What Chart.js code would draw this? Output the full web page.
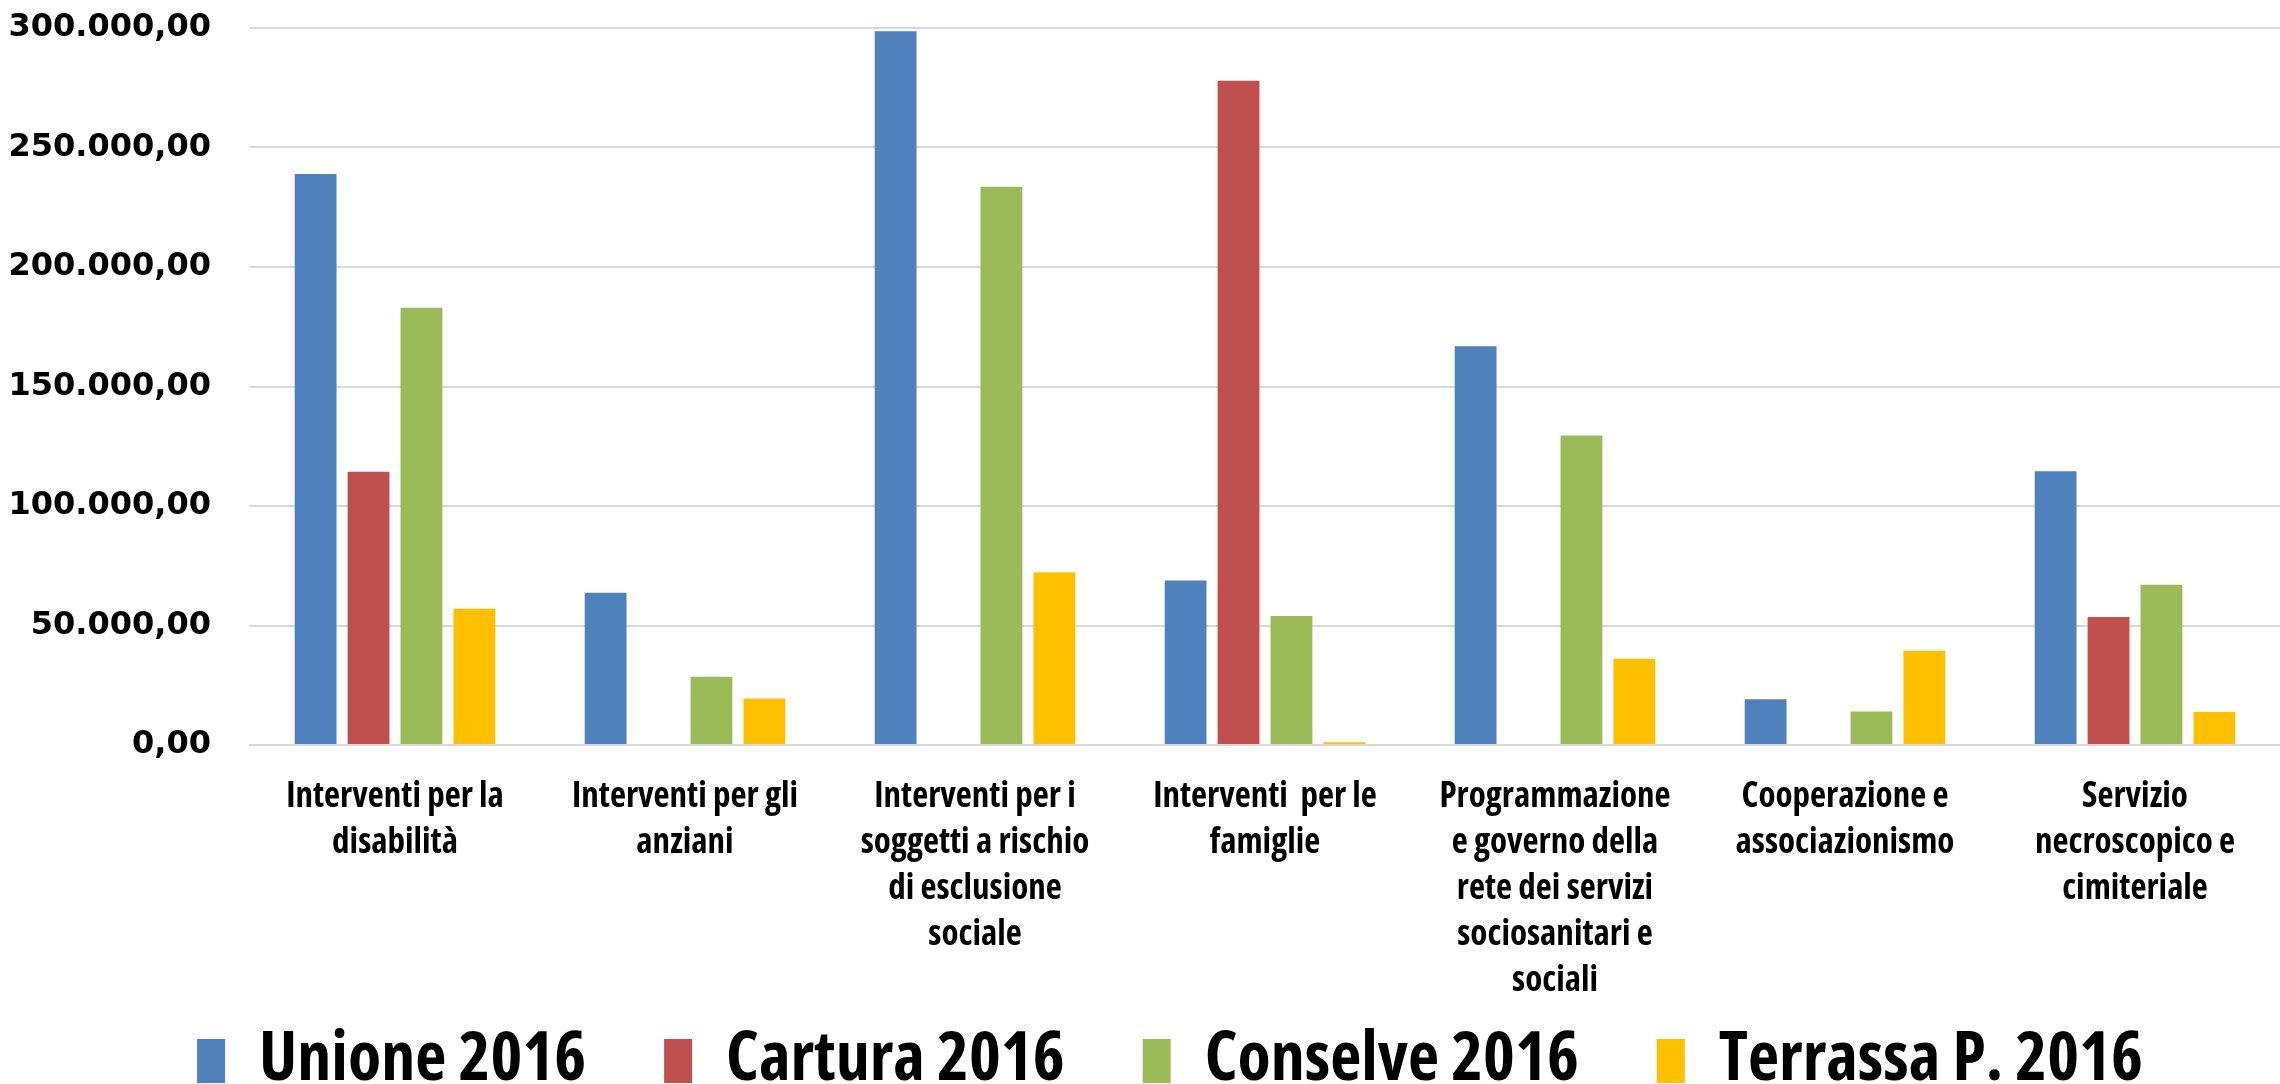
<!DOCTYPE html>
<html>
<head>
<meta charset="utf-8">
<script src="https://cdn.jsdelivr.net/npm/chart.js@4.4.1/dist/chart.umd.min.js"></script>
<style>
  html, body { margin: 0; padding: 0; background: #fff; }
  #wrap { width: 2280px; height: 1084px; position: relative; }
</style>
</head>
<body>
<div id="wrap"><canvas id="chart1"></canvas></div>
<script>
// categories (multi-line labels as in the original)
const categories = [
    ['Interventi per la', 'disabilità'],
    ['Interventi per gli', 'anziani'],
    ['Interventi per i', 'soggetti a rischio', 'di esclusione', 'sociale'],
    ['Interventi  per le', 'famiglie'],
    ['Programmazione', 'e governo della', 'rete dei servizi', 'sociosanitari e', 'sociali'],
    ['Cooperazione e', 'associazionismo'],
    ['Servizio', 'necroscopico e', 'cimiteriale']
];

// series values
const unione2016   = [238900, 63700, 298600, 68800, 166800, 19100, 114500];
const cartura2016  = [114300, 0, 0, 277900, 0, 0, 53600];
const conselve2016 = [182900, 28600, 233600, 54000, 129500, 14000, 67000];
const terrassa2016 = [57000, 19500, 72300, 1200, 36100, 39400, 13800];

// y axis ticks
const yTicks = [0, 50000, 100000, 150000, 200000, 250000, 300000];

// italian number format: 300.000,00
function fmt(v) {
    const parts = Math.abs(v).toFixed(2).split('.');
    const intPart = parts[0].replace(/\B(?=(\d{3})+(?!\d))/g, '.');
    return (v < 0 ? '-' : '') + intPart + ',' + parts[1];
}

// condensed bold, close to the Calibri look of the original
const labelFont = '"Open Sans", Roboto, sans-serif';

const ctx1 = document.getElementById('chart1').getContext('2d');
const chart1 = new Chart(ctx1, {
    type: 'bar',
    data: {
        labels: categories,
        datasets: [{
            label: 'Unione 2016',
            data: unione2016,
            backgroundColor: '#4F81BD',
        }, {
            label: 'Cartura 2016',
            data: cartura2016,
            backgroundColor: '#C0504D',
        }, {
            label: 'Conselve 2016',
            data: conselve2016,
            backgroundColor: '#9BBB59',
        }, {
            label: 'Terrassa P. 2016',
            data: terrassa2016,
            backgroundColor: '#FFC000',
        }]
    },
    options: {
        responsive: true,
        maintainAspectRatio: false,
        animation: false,
        layout: {
            padding: { top: 28, right: 0, left: 0, bottom: -77 }
        },
        datasets: {
            bar: {
                categoryPercentage: 0.73,
                barPercentage: 0.79,
            }
        },
        scales: {
            x: {
                grid: { display: false, drawTicks: false },
                border: { color: '#d9d9d9', width: 2 },
                ticks: {
                    color: '#000',
                    padding: 29,
                    maxRotation: 0,
                    autoSkip: false,
                    font: { family: labelFont, size: 35, weight: 'bold condensed', lineHeight: '46px' }
                },
                afterFit: function (scale) { scale.height = 260; }
            },
            y: {
                min: 0,
                max: 300000,
                afterBuildTicks: function (scale) {
                    scale.ticks = yTicks.map(v => ({ value: v }));
                },
                grid: { color: '#d9d9d9', lineWidth: 2, drawTicks: false },
                border: { display: false },
                ticks: {
                    color: '#000',
                    padding: 39,
                    font: { family: '"DejaVu Sans", Verdana, sans-serif', size: 32, weight: 'bold' },
                    callback: function (v) { return fmt(v); }
                },
                afterFit: function (scale) {
                    scale.width = 250;
                    scale.paddingTop = 0;
                    scale.paddingBottom = 0;
                }
            }
        },
        plugins: {
            tooltip: { enabled: false },
            legend: {
                position: 'bottom',
                labels: {
                    color: '#000',
                    boxWidth: 28,
                    boxHeight: 44,
                    padding: 78,
                    font: { family: labelFont, size: 68, weight: 'bold condensed' }
                }
            }
        }
    },
    plugins: [{
        // the legend's padding is only wanted between items, so lift it up
        id: 'legendShift',
        afterLayout: function (chart) {
            const lg = chart.legend;
            const h = lg.height;
            lg.top = 949;
            lg.bottom = lg.top + h;
            lg.left += 30;
            lg.right += 30;
        }
    }]
});
</script>
</body>
</html>
